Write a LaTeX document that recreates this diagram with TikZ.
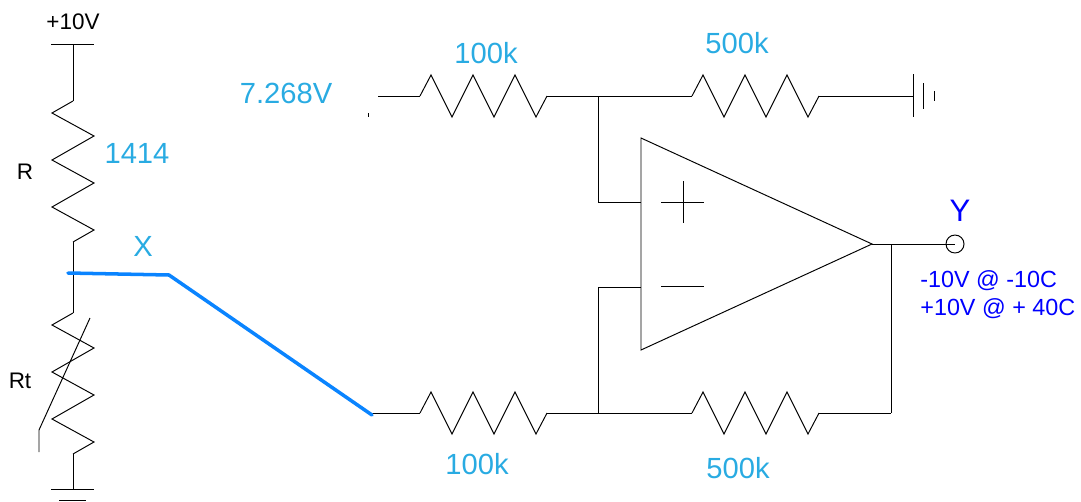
\documentclass[tikz,border=0pt]{standalone}
\usepackage{fontspec}
\setmainfont{Liberation Sans}
\usetikzlibrary{positioning}
\definecolor{valcyan}{HTML}{29ABE2}
\definecolor{wireblue}{HTML}{0A84FF}
\definecolor{outblue}{HTML}{0000FF}
\tikzset{
  wire/.style={line width=0.55pt, line join=miter},
  val/.style={inner sep=0pt, text=valcyan, font=\fontsize{16.6}{18}\selectfont},
  tag/.style={inner sep=0pt, text=black, font=\fontsize{12.8}{15}\selectfont},
  outval/.style={inner sep=0pt, text=outblue, font=\fontsize{13.3}{15}\selectfont},
  hres/.pic={
    \coordinate (-in) at (0,0);
    \coordinate (-out) at (127,0);
    \draw[wire] (-in) -- (11,-21) -- (32,21) -- (53,-21) -- (74,21) -- (95,-21) -- (116,21) -- (-out);
  },
  vres/.pic={
    \coordinate (-in) at (0,0);
    \coordinate (-out) at (0,141);
    \draw[wire] (-in) -- (-21,12) -- (21,35) -- (-21,59) -- (21,82) -- (-21,106) -- (21,129) -- (-out);
  }
}
\begin{document}
\begin{tikzpicture}[x=0.02cm, y=-0.02cm]
\useasboundingbox (0,0) rectangle (1081,501);
% Junctions
\coordinate (vcc) at (73,44);
\coordinate (gnda) at (73,489);
\coordinate (gndb) at (913,96);
\coordinate (jtop) at (598,96);
\coordinate (jbot) at (598,413);
\coordinate (pin) at (641,202);
\coordinate (nin) at (641,287);
\coordinate (opout) at (872,244);
\coordinate (jfb) at (891,244);
\coordinate (fbc) at (891,413);
\coordinate (bend) at (169,275);
\coordinate (xstart) at (68,273);
\coordinate (inb) at (372,415);
\coordinate (ina) at (378,96);

% Resistors
\path (73,101) pic (r) {vres};
\path (73,313) pic (rt) {vres};
\path (420,96) pic (r1) {hres};
\path (692,96) pic (r2) {hres};
\path (420,413) pic (r3) {hres};
\path (692,413) pic (r4) {hres};

% Op amp
\draw[wire] (641,138) -- (opout) -- (641,350) -- cycle;
\draw[wire] (661,202) -- (704,202);
\draw[wire] (683,181) -- (683,223);
\draw[wire] (661,286) -- (704,286);

% Output terminal
\node[draw, circle, wire, inner sep=0pt, minimum size=0.36cm] (yout) at (955,244) {};

% Left branch
\draw[wire] (51,44) -- (94,44);
\draw[wire] (vcc) -- (r-in);
\draw[wire] (r-out) -- (rt-in);
\draw[wire] (rt-out) -- (gnda);
\draw[wire] (51,489) -- (94,489);
\draw[wire] (59,500) -- (86,500);
\draw[wire] (90,318) -- (39,430) -- (39,452);

% Wires
\draw[wire] (ina) -- (r1-in);
\draw[wire] (r1-out) -- (jtop);
\draw[wire] (jtop) -- (r2-in);
\draw[wire] (r2-out) -- (gndb);
\draw[wire] (jtop) |- (pin);
\draw[wire] (jbot) |- (nin);
\draw[wire] (inb |- r3-in) -- (r3-in);
\draw[wire] (r3-out) -- (r4-in);
\draw[wire] (r4-out) -- (fbc);
\draw[wire] (fbc) -- (jfb);
\draw[wire] (opout) -- (yout.center);
\draw[wire] (368,113) -- (368,117);

% Ground at right
\draw[wire] (913,74) -- (913,117);
\draw[wire] (923.5,83) -- (923.5,109);
\draw[wire] (934,91) -- (934,101);

% Blue link
\draw[wireblue, line width=2pt, line cap=round] (xstart) -- (bend) -- (inb);

% Labels
\node[tag] (vcclbl) at (73,22) {+10V};
\node[tag] (rlbl) at (25,172) {R};
\node[tag] (rtlbl) at (20,381) {Rt};
\node[val] (rval) at (137,153) {1414};
\node[val] (xlbl) at (143,246) {X};
\node[val] (inval) at (286,93) {7.268V};
\node[val] (r1val) at (486,53) {100k};
\node[val] (r2val) at (737,43) {500k};
\node[val] (r3val) at (477,464) {100k};
\node[val] (r4val) at (738,468) {500k};
\node[outval, font=\fontsize{17.7}{20}\selectfont] (ylbl) at (960,211) {Y};
\node[outval, anchor=west] (ymin) at (920,281) {-10V @ -10C};
\node[outval, anchor=west] (ymax) at (920,309) {+10V @ + 40C};
\end{tikzpicture}
\end{document}
